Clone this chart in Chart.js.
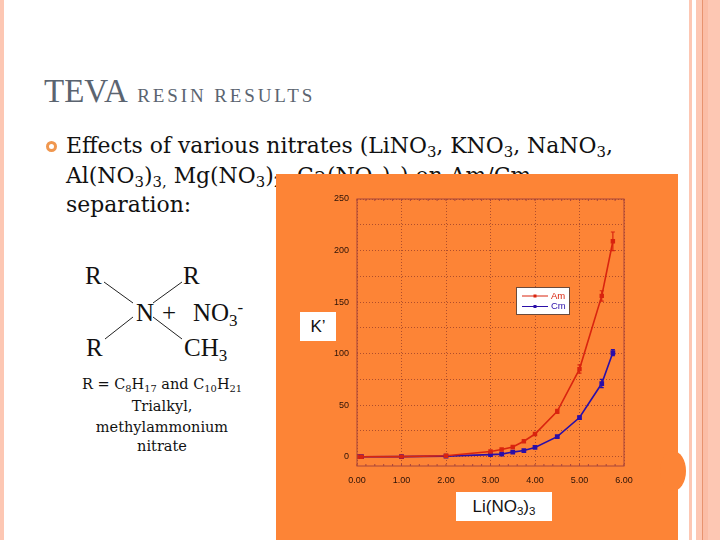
<!DOCTYPE html>
<html>
<head>
<meta charset="utf-8">
<script src="https://cdn.jsdelivr.net/npm/chart.js@4"></script>
<style>
  html, body { margin: 0; padding: 0; background: #fff; }
  #slide { position: relative; width: 720px; height: 540px; overflow: hidden; background: #fff; font-family: "Liberation Serif", serif; color: #111; }
  #slide div, #slide svg, #slide canvas { position: absolute; }
  .band { top: 0; height: 540px; background: #fdc7b3; }
  .t { white-space: nowrap; line-height: 1; }
  .body { left: 66px; font-family: "DejaVu Serif", serif; font-size: 21.9px; }
  .chem { font-size: 25px; }
  .note { left: 62px; width: 200px; text-align: center; font-family: "DejaVu Serif", serif; font-size: 14.5px; }
  sub { font-size: 68%; line-height: 0; vertical-align: -0.28em; }
  sup { font-size: 68%; line-height: 0; vertical-align: 0.45em; }
  .box { background: #fff; font-family: "Liberation Sans", sans-serif; color: #111; text-align: center; }
</style>
</head>
<body>
<div id="slide">
  <div class="band" style="left:0;width:4px"></div>
  <div class="band" style="left:689px;width:3px"></div>
  <div class="band" style="left:696px;width:24px"></div>
  <div class="band" style="left:702px;width:1px;background:#e8936f"></div>
  <div class="band" style="left:703px;width:5px;background:#fbbda6"></div>

  <div class="t" style="left:44px;top:75px;font-size:33px;color:#5b6470">TEVA <span style="font-size:19px;letter-spacing:2.9px;margin-left:3px">RESIN RESULTS</span></div>

  <div style="left:46px;top:141px;width:5px;height:5px;border:3px solid #f0974f;border-radius:50%"></div>
  <div class="t body" style="top:135px">Effects of various nitrates (LiNO<sub>3</sub>, KNO<sub>3</sub>, NaNO<sub>3</sub>,</div>
  <div class="t body" style="top:165px">Al(NO<sub>3</sub>)<sub>3,</sub> Mg(NO<sub>3</sub>)<sub>2</sub>, Ca(NO<sub>3</sub>)<sub>2</sub>) on Am/Cm</div>
  <div class="t body" style="top:194px">separation:</div>

  <svg width="720" height="540" style="left:0;top:0">
    <g stroke="#222" stroke-width="1">
      <line x1="104" y1="282" x2="133" y2="303"/>
      <line x1="182" y1="282" x2="153" y2="303"/>
      <line x1="133" y1="317" x2="105" y2="339"/>
      <line x1="153" y1="317" x2="182" y2="339"/>
    </g>
  </svg>
  <div class="t chem" style="left:85px;top:263px">R</div>
  <div class="t chem" style="left:183px;top:263px">R</div>
  <div class="t chem" style="left:136px;top:300px">N</div>
  <div class="t chem" style="left:162px;top:300px">+</div>
  <div class="t chem" style="left:193px;top:300px">NO<sub>3</sub><sup>-</sup></div>
  <div class="t chem" style="left:86px;top:335px">R</div>
  <div class="t chem" style="left:184px;top:335px">CH<sub>3</sub></div>
  <div class="t note" style="top:377px">R = C<sub>8</sub>H<sub>17</sub> and C<sub>10</sub>H<sub>21</sub></div>
  <div class="t note" style="top:399px">Trialkyl,</div>
  <div class="t note" style="top:420px">methylammonium</div>
  <div class="t note" style="top:439px">nitrate</div>

  <div style="left:276px;top:174px;width:402px;height:366px;background:#fd8436"></div>
  <div style="left:660px;top:451px;width:26px;height:40px;border-radius:50%;background:#fd8436"></div>

  <canvas id="mainChart" width="720" height="540" style="left:0;top:0"></canvas>

  <div class="box t" style="left:300px;top:312px;width:36px;height:29px;font-size:17px;line-height:29px">K’</div>
  <div class="box t" style="left:456px;top:492px;width:96px;height:29px;font-size:17px;line-height:29px">Li(NO<sub>3</sub>)<sub>3</sub></div>
</div>

<script>
const xValues = [0, 0.1, 1, 2, 3, 3.25, 3.5, 3.75, 4, 4.5, 5, 5.5, 5.75];
const amValues = [0, 0, 0.1, 1, 5, 7, 9.5, 15, 22, 44, 85, 156, 209];
const cmValues = [0, 0, 0.1, 0.6, 2, 2.5, 4.5, 6, 9, 19.5, 38, 71, 101];
const amErrors = [0, 0, 0, 0, 0, 0, 0, 0, 1, 2, 4, 5, 9];
const cmErrors = [0, 0, 0, 0, 0, 0, 0, 0, 0, 1, 1.5, 4, 3];
const yTickValues = [0, 25, 50, 75, 100, 125, 150, 175, 200, 225, 250];
const seriesNames = ["Am", "Cm"];

const amColor = "#d9240f";
const cmColor = "#2b0fa8";
const frameColor = "#a8453a";
const dotColor = "rgba(150, 60, 40, 0.75)";

function isWhole(v) {
  return Math.abs(v - Math.round(v)) < 1e-6;
}

function points(values) {
  return values.map((y, i) => ({ x: xValues[i], y: y }));
}

// Frame, inward ticks, error bars and the small legend box
const extras = {
  id: "extras",
  afterDatasetsDraw(chart) {
    const ctx = chart.ctx;
    const area = chart.chartArea;
    const x = chart.scales.x;
    const y = chart.scales.y;

    ctx.save();
    ctx.strokeStyle = frameColor;
    ctx.lineWidth = 1;
    ctx.strokeRect(area.left, area.top, area.right - area.left, area.bottom - area.top);
    x.ticks.forEach((t) => {
      const px = x.getPixelForValue(t.value);
      ctx.beginPath();
      ctx.moveTo(px, area.top);
      ctx.lineTo(px, area.top + 2);
      ctx.moveTo(px, area.bottom);
      ctx.lineTo(px, area.bottom - 2);
      ctx.stroke();
    });

    [[amValues, amErrors, amColor], [cmValues, cmErrors, cmColor]].forEach(([vals, errs, color]) => {
      ctx.strokeStyle = color;
      ctx.lineWidth = 1.2;
      vals.forEach((v, i) => {
        if (!errs[i]) return;
        const px = x.getPixelForValue(xValues[i]);
        const hi = y.getPixelForValue(v + errs[i]);
        const lo = y.getPixelForValue(v - errs[i]);
        ctx.beginPath();
        ctx.moveTo(px, hi);
        ctx.lineTo(px, lo);
        ctx.moveTo(px - 2, hi);
        ctx.lineTo(px + 2, hi);
        ctx.moveTo(px - 2, lo);
        ctx.lineTo(px + 2, lo);
        ctx.stroke();
      });
    });

    // legend
    ctx.fillStyle = "#fff";
    ctx.strokeStyle = "#6b4a3a";
    ctx.lineWidth = 1;
    ctx.fillRect(516.5, 287.5, 53, 27);
    ctx.strokeRect(516.5, 287.5, 53, 27);
    ctx.font = '9.5px "Liberation Sans"';
    ctx.textBaseline = "middle";
    chart.data.datasets.forEach((ds, i) => {
      const ly = 296 + i * 10.5;
      ctx.strokeStyle = ds.borderColor;
      ctx.fillStyle = ds.borderColor;
      ctx.lineWidth = 1;
      ctx.beginPath();
      ctx.moveTo(522, ly);
      ctx.lineTo(548, ly);
      ctx.stroke();
      ctx.fillRect(533.5, ly - 1.5, 3, 3);
      ctx.fillText(ds.label, 551, ly);
    });
    ctx.restore();
  },
};

new Chart(document.getElementById("mainChart").getContext("2d"), {
  type: "line",
  data: {
    datasets: [
      {
        label: seriesNames[0],
        data: points(amValues),
        borderColor: amColor,
        backgroundColor: amColor,
        borderWidth: 1.6,
        pointStyle: "rect",
        pointRadius: 2,
        fill: false,
      },
      {
        label: seriesNames[1],
        data: points(cmValues),
        borderColor: cmColor,
        backgroundColor: cmColor,
        borderWidth: 1.6,
        pointStyle: "rect",
        pointRadius: 2.2,
        fill: false,
      },
    ],
  },
  options: {
    responsive: false,
    animation: false,
    layout: { padding: { left: 327, right: 96, top: 199, bottom: 44 } },
    plugins: { legend: { display: false }, title: { display: false }, tooltip: { enabled: false } },
    scales: {
      x: {
        type: "linear",
        min: 0,
        max: 6,
        afterFit(scale) { scale.height = 30; },
        border: { display: false, dash: [1, 2] },
        grid: {
          drawTicks: false,
          color: (c) => (isWhole(c.tick.value) ? dotColor : "rgba(0, 0, 0, 0)"),
          lineWidth: 1,
        },
        ticks: {
          stepSize: 0.2,
          autoSkip: false,
          maxRotation: 0,
          padding: 9,
          color: "#2a1208",
          font: { family: "Liberation Sans", size: 9 },
          callback: (v) => (isWhole(v) ? v.toFixed(2) : ""),
        },
      },
      y: {
        min: -9,
        max: 250,
        afterFit(scale) { scale.width = 30; },
        afterBuildTicks(scale) { scale.ticks = yTickValues.map((v) => ({ value: v })); },
        border: { display: false, dash: [1, 2] },
        grid: {
          drawTicks: false,
          color: dotColor,
          lineWidth: 1,
        },
        ticks: {
          autoSkip: false,
          padding: 8,
          color: "#2a1208",
          font: { family: "Liberation Sans", size: 9 },
          callback: (v) => (v % 50 === 0 ? String(v) : ""),
        },
      },
    },
  },
  plugins: [extras],
});
</script>
</body>
</html>
